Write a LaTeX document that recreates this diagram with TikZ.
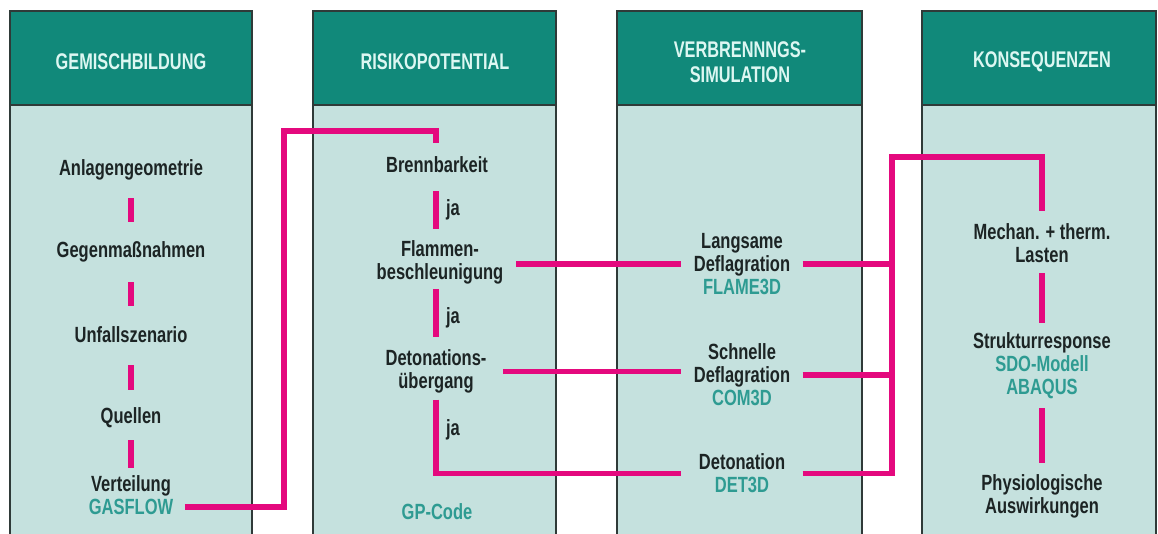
\documentclass[tikz,border=0pt]{standalone}
\usepackage{fontspec}
\setmainfont{Liberation Sans}[FakeStretch=0.75]
\newfontfamily\hdrfont{Liberation Sans}[FakeStretch=0.72]
\usetikzlibrary{calc}
\definecolor{hdr}{HTML}{11897A}
\definecolor{body}{HTML}{C5E1DE}
\definecolor{hdrtxt}{HTML}{DDF7F2}
\definecolor{ink}{HTML}{1C2424}
\definecolor{lbl}{HTML}{2E9B92}
\definecolor{pinkline}{HTML}{E4097E}
\definecolor{boxline}{HTML}{2F3A38}
\begin{document}
\begin{tikzpicture}[x=0.75pt,y=-0.75pt,
  colbody/.style={fill=body},
  colhdr/.style={fill=hdr},
  colframe/.style={draw=boxline, line width=0.9pt},
  hdrtext/.style={font=\hdrfont\bfseries\fontsize{17}{18.75}\selectfont, text=hdrtxt, align=center, inner sep=2pt},
  txt/.style={font=\bfseries\fontsize{16.5}{17.25}\selectfont, text=ink, align=center, inner sep=2pt},
  lbltxt/.style={txt, text=lbl},
  simbox/.style={txt, minimum width=76.5pt},
  link/.style={draw=pinkline, line width=4.4pt, line join=miter},
]
\clip (0,0) rectangle (1158,533);
\fill[white] (0,0) rectangle (1158,533);

% columns
\foreach \l/\r in {10/252, 313/556, 617/862, 922/1156} {
  \fill[colbody] (\l,11) rectangle (\r,545);
  \fill[colhdr] (\l,11) rectangle (\r,105);
  \draw[colframe] (\l,545) -- (\l,11) -- (\r,11) -- (\r,545);
  \draw[colframe] (\l,105) -- (\r,105);
}

% headers
\node[hdrtext] (h1) at (131,62) {GEMISCHBILDUNG};
\node[hdrtext] (h2) at (435,62) {RISIKOPOTENTIAL};
\node[hdrtext] (h3) at (740,62) {VERBRENNNGS-\\SIMULATION};
\node[hdrtext] (h4) at (1042,62) {KONSEQUENZEN};

% column 1
\node[txt] (anl) at (131,170) {Anlagengeometrie};
\node[txt] (geg) at (131,252) {Gegenmaßnahmen};
\node[txt] (unf) at (131,335) {Unfallszenario};
\node[txt] (quel) at (131,418) {Quellen};
\node[txt] (vert) at (131,486) {Verteilung};
\node[lbltxt] (gas) at (131,507) {GASFLOW};

% column 2
\node[txt] (brenn) at (437,165) {Brennbarkeit};
\node[txt] (flam) at (440,262) {Flammen-\\beschleunigung};
\node[txt] (deto) at (436,371.5) {Detonations-\\übergang};
\node[lbltxt] (gp) at (437,512) {GP-Code};
\node[txt] (ja1) at (453,210) {ja};
\node[txt] (ja2) at (453,318) {ja};
\node[txt] (ja3) at (453,430) {ja};

% column 3
\node[simbox] (langs) at (742,264) {Langsame\\Deflagration\\{\color{lbl}FLAME3D}};
\node[simbox] (schn) at (742,375) {Schnelle\\Deflagration\\{\color{lbl}COM3D}};
\node[simbox] (det) at (742,473.5) {Detonation\\{\color{lbl}DET3D}};

% column 4
\node[txt] (mech) at (1042,243.5) {Mechan. + therm.\\Lasten};
\node[txt] (struk) at (1042,365.5) {Strukturresponse\\{\color{lbl}SDO-Modell}\\{\color{lbl}ABAQUS}};
\node[txt] (phys) at (1042,496.5) {Physiologische\\Auswirkungen};

% helper coordinates
\coordinate (j1) at (284,131);
\coordinate (bus) at (892,157);

% column 1 dashes
\draw[link] ($(anl)+(0,28)$) -- ($(geg)+(0,-30)$);
\draw[link] ($(geg)+(0,30)$) -- ($(unf)+(0,-29)$);
\draw[link] ($(unf)+(0,30)$) -- ($(quel)+(0,-28)$);
\draw[link] ($(quel)+(0,22)$) -- ($(vert)+(0,-18)$);

% column 2 dashes
\draw[link] ($(deto |- brenn)+(0,26)$) -- ($(deto |- flam)+(0,-33)$);
\draw[link] ($(deto |- flam)+(0,27)$) -- ($(deto)+(0,-34.5)$);

% column 4 dashes
\draw[link] ($(mech)+(0,29.5)$) -- ($(struk)+(0,-42.5)$);
\draw[link] ($(struk)+(0,42.5)$) -- ($(phys)+(0,-33.5)$);

% connectors
\draw[link, shorten <=6.5pt, shorten >=8pt] (gas.east) -| (j1) -| (deto |- brenn.north);
\draw[link, shorten <=7.5pt, shorten >=7.5pt] (flam.east |- langs.west) -- (langs.west);
\draw[link, shorten <=10.5pt, shorten >=7.5pt] (deto.east) -- (deto.east -| schn.west);
\draw[link, shorten <=2.5pt, shorten >=7.5pt] (deto.south) |- (det.west);
\draw[link, shorten <=7pt] (langs.east) -- (langs.east -| bus);
\draw[link, shorten <=7pt] (schn.east) -- (schn.east -| bus);
\draw[link, shorten <=7pt, shorten >=7.5pt] (det.east) -| (bus) -| (mech.north);
\end{tikzpicture}
\end{document}
